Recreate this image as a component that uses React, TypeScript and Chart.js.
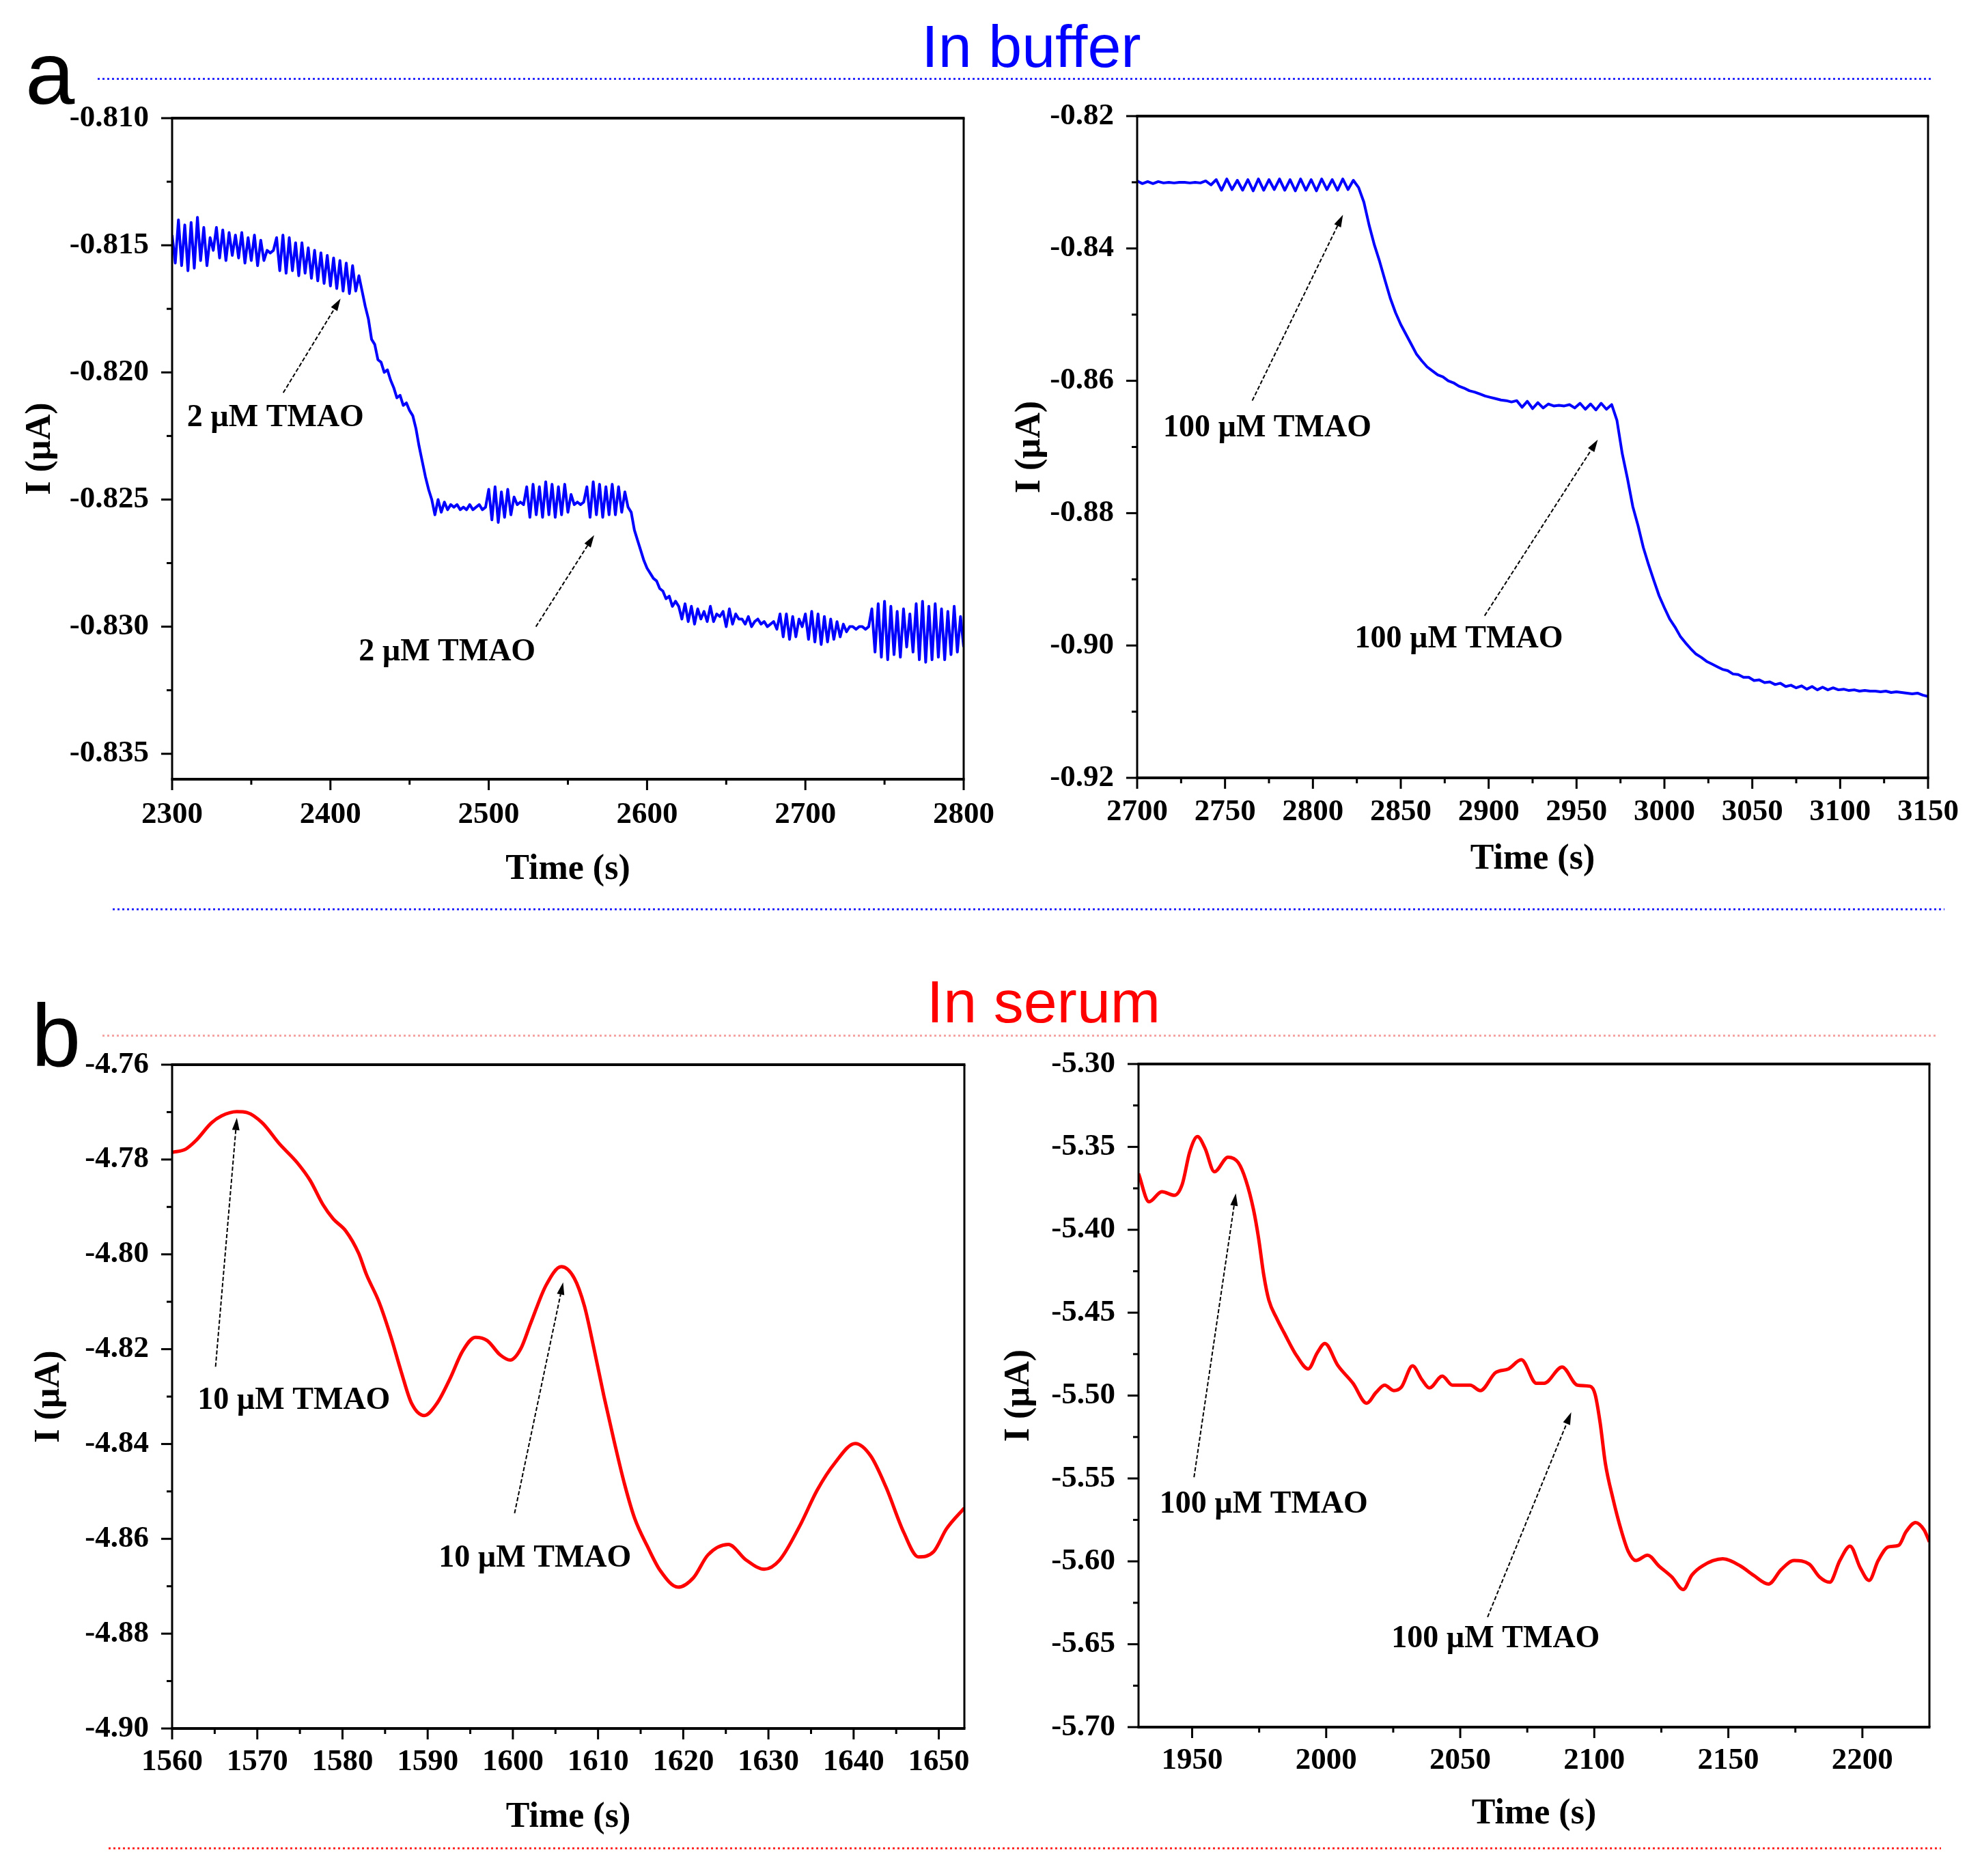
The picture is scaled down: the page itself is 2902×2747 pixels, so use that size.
import React, { useEffect, useRef } from "react";
import { Chart, registerables } from "chart.js";

Chart.register(...registerables);

const SERIF = "'Liberation Serif', 'Times New Roman', Times, serif";
const SANS = "'Liberation Sans', Arial, Helvetica, sans-serif";

// ---------------- Panel a (left): in buffer, 2 µM additions ----------------
const bufferLeftStart = 2300;
const bufferLeftStep = 2;
const bufferLeftCurrent = [
  -0.8146, -0.8157, -0.8140, -0.8158, -0.8142, -0.8160, -0.8141, -0.8159, -0.8139, -0.8156,
  -0.8143, -0.8158, -0.8147, -0.8152, -0.8143, -0.8155, -0.8144, -0.8156, -0.8145, -0.8154,
  -0.8146, -0.8155, -0.8145, -0.8157, -0.8147, -0.8156, -0.8146, -0.8158, -0.8148, -0.8156,
  -0.8152, -0.8153, -0.8152, -0.8147, -0.8160, -0.8146, -0.8161, -0.8147, -0.8160, -0.8149,
  -0.8162, -0.8149, -0.8161, -0.8151, -0.8163, -0.8152, -0.8164, -0.8153, -0.8165, -0.8154,
  -0.8166, -0.8155, -0.8167, -0.8156, -0.8168, -0.8157, -0.8169, -0.8158, -0.8168, -0.8162,
  -0.8168, -0.8174, -0.8179, -0.8187, -0.8189, -0.8195, -0.8196, -0.8200, -0.8199, -0.8203,
  -0.8206, -0.8210, -0.8209, -0.8213, -0.8212, -0.8215, -0.8217, -0.8222, -0.8229, -0.8235,
  -0.8241, -0.8246, -0.8250, -0.8256, -0.8250, -0.8255, -0.8251, -0.8254, -0.8252, -0.8253,
  -0.8252, -0.8254, -0.8253, -0.8254, -0.8252, -0.8254, -0.8253, -0.8252, -0.8254, -0.8253,
  -0.8246, -0.8258, -0.8245, -0.8259, -0.8247, -0.8257, -0.8246, -0.8256, -0.8249, -0.8252,
  -0.8251, -0.8252, -0.8245, -0.8257, -0.8244, -0.8256, -0.8245, -0.8257, -0.8243, -0.8256,
  -0.8244, -0.8257, -0.8245, -0.8256, -0.8244, -0.8255, -0.8248, -0.8252, -0.8251, -0.8252,
  -0.8251, -0.8245, -0.8257, -0.8243, -0.8256, -0.8244, -0.8257, -0.8245, -0.8256, -0.8244,
  -0.8256, -0.8245, -0.8255, -0.8247, -0.8253, -0.8255, -0.8262, -0.8266, -0.8270, -0.8274,
  -0.8277, -0.8279, -0.8281, -0.8282, -0.8285, -0.8286, -0.8289, -0.8288, -0.8292, -0.8290,
  -0.8292, -0.8297, -0.8291, -0.8298, -0.8292, -0.8299, -0.8293, -0.8297, -0.8294, -0.8298,
  -0.8292, -0.8298, -0.8295, -0.8296, -0.8294, -0.8300, -0.8293, -0.8299, -0.8295, -0.8297,
  -0.8297, -0.8299, -0.8296, -0.8300, -0.8298, -0.8297, -0.8299, -0.8298, -0.8300, -0.8299,
  -0.8298, -0.8301, -0.8295, -0.8304, -0.8295, -0.8305, -0.8296, -0.8304, -0.8297, -0.8300,
  -0.8295, -0.8305, -0.8294, -0.8306, -0.8295, -0.8307, -0.8296, -0.8306, -0.8297, -0.8305,
  -0.8298, -0.8304, -0.8299, -0.8302, -0.8300, -0.8300, -0.8301, -0.8300, -0.8300, -0.8301,
  -0.8300, -0.8293, -0.8310, -0.8291, -0.8312, -0.8290, -0.8313, -0.8292, -0.8311, -0.8294,
  -0.8312, -0.8293, -0.8308, -0.8295, -0.8310, -0.8291, -0.8313, -0.8290, -0.8314, -0.8292,
  -0.8313, -0.8291, -0.8312, -0.8293, -0.8313, -0.8294, -0.8311, -0.8292, -0.8310, -0.8296,
  -0.8308,
];
const bufferLeftXTicks = [2300, 2400, 2500, 2600, 2700, 2800];
const bufferLeftXMinor = [2350, 2450, 2550, 2650, 2750];
const bufferLeftYTicks = [-0.810, -0.815, -0.820, -0.825, -0.830, -0.835];
const bufferLeftYMinor = [-0.8125, -0.8175, -0.8225, -0.8275, -0.8325];
// [tailTime, tailCurrent, headTime, headCurrent]
const bufferLeftArrows = [
  [2370.2, -0.8208, 2406.4, -0.8171],
  [2529.8, -0.8300, 2566.6, -0.8264],
];
const bufferLeftLabels: [string, number, number][] = [
  ["2 µM TMAO", 2365.3, -0.8218],
  ["2 µM TMAO", 2473.7, -0.8310],
];

// ---------------- Panel a (right): in buffer, 100 µM additions ----------------
const bufferRightStart = 2700;
const bufferRightStep = 3;
const bufferRightCurrent = [
  -0.8298, -0.8302, -0.8299, -0.8302, -0.8299, -0.8301, -0.8300, -0.8301, -0.8300, -0.8300,
  -0.8301, -0.8300, -0.8301, -0.8298, -0.8304,
  -0.8296, -0.8312, -0.8295, -0.8311, -0.8297, -0.8312, -0.8296, -0.8313, -0.8295, -0.8312,
  -0.8296, -0.8311, -0.8295, -0.8312, -0.8296, -0.8313, -0.8295, -0.8312, -0.8296, -0.8313,
  -0.8295, -0.8311, -0.8296, -0.8312, -0.8295, -0.8311, -0.8297, -0.8308,
  -0.8330, -0.8365, -0.8395, -0.8420, -0.8448, -0.8475, -0.8497, -0.8515, -0.8530, -0.8545,
  -0.8560, -0.8570, -0.8579, -0.8585, -0.8591, -0.8594, -0.8600, -0.8603, -0.8608, -0.8611,
  -0.8615, -0.8617, -0.8620, -0.8623, -0.8625, -0.8627, -0.8629, -0.8630, -0.8632,
  -0.8630, -0.8640, -0.8631, -0.8642, -0.8633, -0.8641, -0.8635, -0.8638, -0.8637, -0.8638,
  -0.8636, -0.8641, -0.8634, -0.8643, -0.8635, -0.8644, -0.8634, -0.8643, -0.8636,
  -0.8660, -0.8710, -0.8748, -0.8790, -0.8819, -0.8852, -0.8878, -0.8902, -0.8925, -0.8943,
  -0.8960, -0.8972, -0.8986, -0.8996, -0.9005, -0.9013, -0.9018, -0.9024, -0.9028, -0.9032,
  -0.9036, -0.9038, -0.9043, -0.9044, -0.9048, -0.9048, -0.9053, -0.9052, -0.9056, -0.9055,
  -0.9059, -0.9057, -0.9062, -0.9060, -0.9064, -0.9061, -0.9066, -0.9062, -0.9067, -0.9063,
  -0.9067, -0.9064, -0.9067, -0.9066, -0.9068, -0.9067, -0.9069, -0.9068, -0.9069, -0.9069,
  -0.9070, -0.9069, -0.9071, -0.9070, -0.9071, -0.9072, -0.9073, -0.9072, -0.9075, -0.9077,
];
const bufferRightXTicks = [2700, 2750, 2800, 2850, 2900, 2950, 3000, 3050, 3100, 3150];
const bufferRightXMinor = [2725, 2775, 2825, 2875, 2925, 2975, 3025, 3075, 3125];
const bufferRightYTicks = [-0.82, -0.84, -0.86, -0.88, -0.90, -0.92];
const bufferRightYMinor = [-0.83, -0.85, -0.87, -0.89, -0.91];
const bufferRightArrows = [
  [2765.5, -0.8630, 2817.1, -0.8349],
  [2897.7, -0.8955, 2962.1, -0.8689],
];
const bufferRightLabels: [string, number, number][] = [
  ["100 µM TMAO", 2774.0, -0.8672],
  ["100 µM TMAO", 2883.0, -0.8991],
];

// ---------------- Panel b (left): in serum, 10 µM additions ----------------
const serumLeftTime = [
  1560.0, 1561.6, 1562.8, 1564.6, 1565.8, 1567.6, 1568.8, 1570.6, 1572.6, 1574.7,
  1576.2, 1577.7, 1578.9, 1580.4, 1581.9, 1582.8, 1584.3, 1585.7, 1586.9, 1588.1,
  1589.6, 1591.1, 1592.6, 1594.1, 1595.6, 1597.0, 1598.5, 1599.7, 1600.9, 1602.1,
  1603.9, 1605.7, 1607.2, 1608.4, 1609.5, 1610.7, 1611.9, 1613.1, 1614.3, 1615.8,
  1617.3, 1619.4, 1621.2, 1622.9, 1625.3, 1627.4, 1629.5, 1631.3, 1633.7, 1635.7,
  1637.8, 1640.2, 1642.0, 1643.8, 1645.9, 1647.6, 1649.4, 1650.9, 1653.0,
];
const serumLeftCurrent = [
  -4.7785, -4.7778, -4.7760, -4.7723, -4.7708, -4.7699, -4.7701, -4.7723, -4.7767, -4.7807,
  -4.7844, -4.7895, -4.7925, -4.7951, -4.7998, -4.8042, -4.8101, -4.8175, -4.8248, -4.8314,
  -4.8340, -4.8314, -4.8263, -4.8204, -4.8175, -4.8182, -4.8212, -4.8223, -4.8200, -4.8145,
  -4.8065, -4.8026, -4.8050, -4.8109, -4.8197, -4.8300, -4.8395, -4.8484, -4.8557, -4.8616,
  -4.8667, -4.8702, -4.8682, -4.8634, -4.8612, -4.8645, -4.8664, -4.8645, -4.8572, -4.8498,
  -4.8440, -4.8399, -4.8425, -4.8491, -4.8587, -4.8638, -4.8627, -4.8579, -4.8535,
];
const serumLeftXTicks = [1560, 1570, 1580, 1590, 1600, 1610, 1620, 1630, 1640, 1650];
const serumLeftXMinor = [1565, 1575, 1585, 1595, 1605, 1615, 1625, 1635, 1645];
const serumLeftYTicks = [-4.76, -4.78, -4.80, -4.82, -4.84, -4.86, -4.88, -4.90];
const serumLeftYMinor = [-4.77, -4.79, -4.81, -4.83, -4.85, -4.87, -4.89];
const serumLeftArrows = [
  [1565.1, -4.8237, 1567.6, -4.7712],
  [1600.2, -4.8546, 1605.9, -4.8059],
];
const serumLeftLabels: [string, number, number][] = [
  ["10 µM TMAO", 1574.3, -4.8309],
  ["10 µM TMAO", 1602.6, -4.8642],
];

// ---------------- Panel b (right): in serum, 100 µM additions ----------------
const serumRightTime = [
  1930.0, 1933.9, 1938.7, 1943.4, 1946.3, 1949.1, 1952.0, 1954.8, 1958.3, 1963.4,
  1967.2, 1970.1, 1972.9, 1974.8, 1976.7, 1978.6, 1981.5, 1984.3, 1989.1, 1993.3,
  1996.7, 1999.5, 2004.3, 2010.0, 2015.1, 2018.6, 2021.8, 2025.2, 2028.1, 2032.2,
  2035.7, 2038.5, 2043.3, 2047.1, 2053.7, 2057.5, 2063.2, 2068.0, 2072.8, 2078.4,
  2081.3, 2088.0, 2093.7, 2098.4, 2100.3, 2102.2, 2104.1, 2107.0, 2109.8, 2112.7,
  2115.5, 2119.9, 2124.1, 2128.9, 2133.2, 2136.4, 2140.3, 2147.9, 2154.5, 2159.3,
  2165.0, 2169.7, 2174.5, 2180.2, 2184.0, 2187.8, 2191.6, 2195.4, 2199.2, 2202.5,
  2205.9, 2209.7, 2213.5, 2216.3, 2219.8, 2223.0, 2225.0,
];
const serumRightCurrent = [
  -5.3661, -5.3831, -5.3770, -5.3792, -5.3726, -5.3530, -5.3438, -5.3508, -5.3650, -5.3562,
  -5.3595, -5.3704, -5.3879, -5.4053, -5.4272, -5.4424, -5.4533, -5.4621, -5.4763, -5.4839,
  -5.4741, -5.4686, -5.4817, -5.4926, -5.5046, -5.4981, -5.4937, -5.4970, -5.4948, -5.4821,
  -5.4904, -5.4954, -5.4883, -5.4937, -5.4937, -5.4970, -5.4861, -5.4839, -5.4784, -5.4926,
  -5.4926, -5.4828, -5.4937, -5.4944, -5.4992, -5.5166, -5.5406, -5.5624, -5.5799, -5.5941,
  -5.5995, -5.5963, -5.6028, -5.6094, -5.6170, -5.6083, -5.6028, -5.5985, -5.6028, -5.6083,
  -5.6137, -5.6050, -5.5995, -5.6017, -5.6094, -5.6126, -5.5995, -5.5908, -5.6039, -5.6115,
  -5.5995, -5.5913, -5.5904, -5.5821, -5.5766, -5.5810, -5.5882,
];
const serumRightXTicks = [1950, 2000, 2050, 2100, 2150, 2200];
const serumRightXMinor = [1975, 2025, 2075, 2125, 2175];
const serumRightYTicks = [-5.30, -5.35, -5.40, -5.45, -5.50, -5.55, -5.60, -5.65, -5.70];
const serumRightYMinor = [-5.325, -5.375, -5.425, -5.475, -5.525, -5.575, -5.625, -5.675];
const serumRightArrows = [
  [1950.7, -5.5493, 1966.3, -5.3781],
  [2060.2, -5.6336, 2091.4, -5.5101],
];
const serumRightLabels: [string, number, number][] = [
  ["100 µM TMAO", 1976.7, -5.5657],
  ["100 µM TMAO", 2063.2, -5.6470],
];

// ---------------------------------------------------------------------------
type Pt = { x: number; y: number };
const regular = (start: number, step: number, vals: number[]): Pt[] =>
  vals.map((v, i) => ({ x: start + i * step, y: v }));
const paired = (ts: number[], vals: number[]): Pt[] =>
  ts.map((t, i) => ({ x: t, y: vals[i] }));

type PanelCfg = {
  L: number; T: number; R: number; B: number;
  points: Pt[]; color: string; smooth: boolean; lineW: number;
  xMin: number; xMax: number; yMin: number; yMax: number;
  xTicks: number[]; xMinor: number[]; yTicks: number[]; yMinor: number[];
  yDec: number;
  arrows: number[][]; labels: [string, number, number][];
  xTickPad: number; xTitlePad: number; yTitlePad: number;
};

const Y_AXIS_W = 240;
const X_AXIS_H = 180;
const PAD_TOP = 80;
const PAD_RIGHT = 100;

function makeDecor(cfg: PanelCfg) {
  return {
    id: "decor",
    afterDatasetsDraw(chart: any) {
      const { ctx, chartArea } = chart;
      const { left, top, right, bottom } = chartArea;
      const xs = chart.scales.x;
      const ys = chart.scales.y;
      const seg = (x1: number, y1: number, x2: number, y2: number) => {
        ctx.beginPath();
        ctx.moveTo(x1, y1);
        ctx.lineTo(x2, y2);
        ctx.stroke();
      };
      ctx.save();
      ctx.strokeStyle = "#000";
      ctx.lineCap = "butt";
      ctx.lineWidth = 3;
      cfg.xTicks.forEach((v) => { const p = xs.getPixelForValue(v); seg(p, bottom, p, bottom + 16); });
      cfg.xMinor.forEach((v) => { const p = xs.getPixelForValue(v); seg(p, bottom, p, bottom + 8); });
      cfg.yTicks.forEach((v) => { const p = ys.getPixelForValue(v); seg(left, p, left - 16, p); });
      cfg.yMinor.forEach((v) => { const p = ys.getPixelForValue(v); seg(left, p, left - 8, p); });
      // frame
      ctx.lineWidth = 4;
      seg(left - 1.5, top, right + 1.5, top);
      seg(left - 1.5, bottom, right + 1.5, bottom);
      ctx.lineWidth = 3;
      seg(left, top, left, bottom);
      seg(right, top, right, bottom);
      // arrows
      ctx.fillStyle = "#000";
      cfg.arrows.forEach(([t1, v1, t2, v2]) => {
        const x1 = xs.getPixelForValue(t1), y1 = ys.getPixelForValue(v1);
        const x2 = xs.getPixelForValue(t2), y2 = ys.getPixelForValue(v2);
        const a = Math.atan2(y2 - y1, x2 - x1);
        const hl = 18, hw = 5.5;
        const bx = x2 - hl * Math.cos(a), by = y2 - hl * Math.sin(a);
        ctx.lineWidth = 2;
        ctx.setLineDash([6, 3]);
        seg(x1, y1, bx, by);
        ctx.setLineDash([]);
        ctx.beginPath();
        ctx.moveTo(x2, y2);
        ctx.lineTo(bx + hw * Math.sin(a), by - hw * Math.cos(a));
        ctx.lineTo(bx - hw * Math.sin(a), by + hw * Math.cos(a));
        ctx.closePath();
        ctx.fill();
      });
      // annotation texts
      ctx.font = `bold 46px ${SERIF}`;
      ctx.textAlign = "center";
      ctx.textBaseline = "middle";
      cfg.labels.forEach(([txt, t, v]) => {
        ctx.fillText(txt, xs.getPixelForValue(t), ys.getPixelForValue(v));
      });
      ctx.restore();
    },
  };
}

function Panel({ cfg }: { cfg: PanelCfg }) {
  const ref = useRef<HTMLCanvasElement | null>(null);
  const w = cfg.R - cfg.L + Y_AXIS_W + PAD_RIGHT;
  const h = cfg.B - cfg.T + PAD_TOP + X_AXIS_H;
  useEffect(() => {
    if (!ref.current) return;
    const tickFont = { family: SERIF, weight: "bold" as const, size: 45 };
    const titleFont = { family: SERIF, weight: "bold" as const, size: 52 };
    const chart = new Chart(ref.current, {
      type: "line",
      data: {
        datasets: [
          {
            data: cfg.points,
            borderColor: cfg.color,
            borderWidth: cfg.lineW,
            borderJoinStyle: "round",
            pointRadius: 0,
            fill: false,
            tension: 0,
            cubicInterpolationMode: cfg.smooth ? "monotone" : "default",
          },
        ],
      },
      options: {
        responsive: false,
        animation: false,
        events: [],
        layout: { padding: { left: 0, top: PAD_TOP, right: PAD_RIGHT, bottom: 0 } },
        plugins: { legend: { display: false }, tooltip: { enabled: false } },
        scales: {
          x: {
            type: "linear",
            min: cfg.xMin,
            max: cfg.xMax,
            afterBuildTicks: (s: any) => { s.ticks = cfg.xTicks.map((v) => ({ value: v })); },
            afterFit: (s: any) => { s.height = X_AXIS_H; },
            grid: { display: false },
            border: { display: false },
            ticks: {
              autoSkip: false,
              maxRotation: 0,
              minRotation: 0,
              padding: cfg.xTickPad,
              color: "#000",
              font: tickFont,
              callback: (v: any) => Number(v).toFixed(0),
            },
            title: {
              display: true,
              text: "Time (s)",
              color: "#000",
              font: titleFont,
              padding: { top: 0, bottom: cfg.xTitlePad },
            },
          },
          y: {
            type: "linear",
            min: cfg.yMin,
            max: cfg.yMax,
            afterBuildTicks: (s: any) => { s.ticks = cfg.yTicks.map((v) => ({ value: v })); },
            afterFit: (s: any) => { s.width = Y_AXIS_W; },
            grid: { display: false },
            border: { display: false },
            ticks: {
              autoSkip: false,
              padding: 26,
              color: "#000",
              font: tickFont,
              callback: (v: any) => Number(v).toFixed(cfg.yDec),
            },
            title: {
              display: true,
              text: "I (µA)",
              color: "#000",
              font: titleFont,
              padding: { top: cfg.yTitlePad, bottom: 0 },
            },
          },
        },
      } as any,
      plugins: [makeDecor(cfg)],
    });
    return () => chart.destroy();
  }, []);
  return (
    <canvas
      ref={ref}
      width={w}
      height={h}
      style={{ position: "absolute", left: cfg.L - Y_AXIS_W, top: cfg.T - PAD_TOP, width: w, height: h }}
    />
  );
}

const panels: PanelCfg[] = [
  {
    L: 252, T: 173, R: 1411, B: 1141,
    points: regular(bufferLeftStart, bufferLeftStep, bufferLeftCurrent),
    color: "#0000FF", smooth: false, lineW: 4,
    xMin: 2300, xMax: 2800, yMin: -0.836, yMax: -0.81,
    xTicks: bufferLeftXTicks, xMinor: bufferLeftXMinor, yTicks: bufferLeftYTicks, yMinor: bufferLeftYMinor,
    yDec: 3, arrows: bufferLeftArrows, labels: bufferLeftLabels,
    xTickPad: 17, xTitlePad: 16, yTitlePad: 16,
  },
  {
    L: 1665, T: 170, R: 2823, B: 1139,
    points: regular(bufferRightStart, bufferRightStep, bufferRightCurrent),
    color: "#0000FF", smooth: false, lineW: 4,
    xMin: 2700, xMax: 3150, yMin: -0.92, yMax: -0.82,
    xTicks: bufferRightXTicks, xMinor: bufferRightXMinor, yTicks: bufferRightYTicks, yMinor: bufferRightYMinor,
    yDec: 2, arrows: bufferRightArrows, labels: bufferRightLabels,
    xTickPad: 15, xTitlePad: 29, yTitlePad: 52,
  },
  {
    L: 252, T: 1559, R: 1412, B: 2531,
    points: paired(serumLeftTime, serumLeftCurrent),
    color: "#FF0000", smooth: true, lineW: 5,
    xMin: 1560, xMax: 1653, yMin: -4.90, yMax: -4.76,
    xTicks: serumLeftXTicks, xMinor: serumLeftXMinor, yTicks: serumLeftYTicks, yMinor: serumLeftYMinor,
    yDec: 2, arrows: serumLeftArrows, labels: serumLeftLabels,
    xTickPad: 14, xTitlePad: 18, yTitlePad: 29,
  },
  {
    L: 1667, T: 1558, R: 2825, B: 2529,
    points: paired(serumRightTime, serumRightCurrent),
    color: "#FF0000", smooth: true, lineW: 5,
    xMin: 1930, xMax: 2225, yMin: -5.70, yMax: -5.30,
    xTicks: serumRightXTicks, xMinor: serumRightXMinor, yTicks: serumRightYTicks, yMinor: serumRightYMinor,
    yDec: 2, arrows: serumRightArrows, labels: serumRightLabels,
    xTickPad: 14, xTitlePad: 21, yTitlePad: 34,
  },
];

const dotted = (color: string) =>
  `repeating-linear-gradient(to right, ${color} 0px, ${color} 3px, transparent 3px, transparent 7px)`;

export default function App() {
  return (
    <div style={{ position: "absolute", left: 0, top: 0, width: 2902, height: 2747, background: "#fff", overflow: "hidden" }}>
      {/* panel letters */}
      <div style={{ position: "absolute", left: 37, top: 42, fontFamily: SANS, fontSize: 130, lineHeight: "130px", color: "#000" }}>a</div>
      <div style={{ position: "absolute", left: 46, top: 1451, fontFamily: SANS, fontSize: 130, lineHeight: "130px", color: "#000" }}>b</div>
      {/* section titles */}
      <div style={{ position: "absolute", left: 1210, width: 600, top: 24, textAlign: "center", fontFamily: SANS, fontSize: 88, lineHeight: "88px", color: "#0000FF", whiteSpace: "nowrap" }}>In buffer</div>
      <div style={{ position: "absolute", left: 1228, width: 600, top: 1423, textAlign: "center", fontFamily: SANS, fontSize: 88, lineHeight: "88px", color: "#FF0000", whiteSpace: "nowrap" }}>In serum</div>
      {/* dotted separators */}
      <div style={{ position: "absolute", left: 143, top: 114, width: 2685, height: 3, background: dotted("#2a2aff") }} />
      <div style={{ position: "absolute", left: 165, top: 1330, width: 2682, height: 3, background: dotted("#2a2aff") }} />
      <div style={{ position: "absolute", left: 150, top: 1515, width: 2685, height: 3, background: dotted("#f5a3a3") }} />
      <div style={{ position: "absolute", left: 159, top: 2705, width: 2683, height: 3, background: dotted("#ff2a2a") }} />
      {panels.map((p, i) => (
        <Panel key={i} cfg={p} />
      ))}
    </div>
  );
}
